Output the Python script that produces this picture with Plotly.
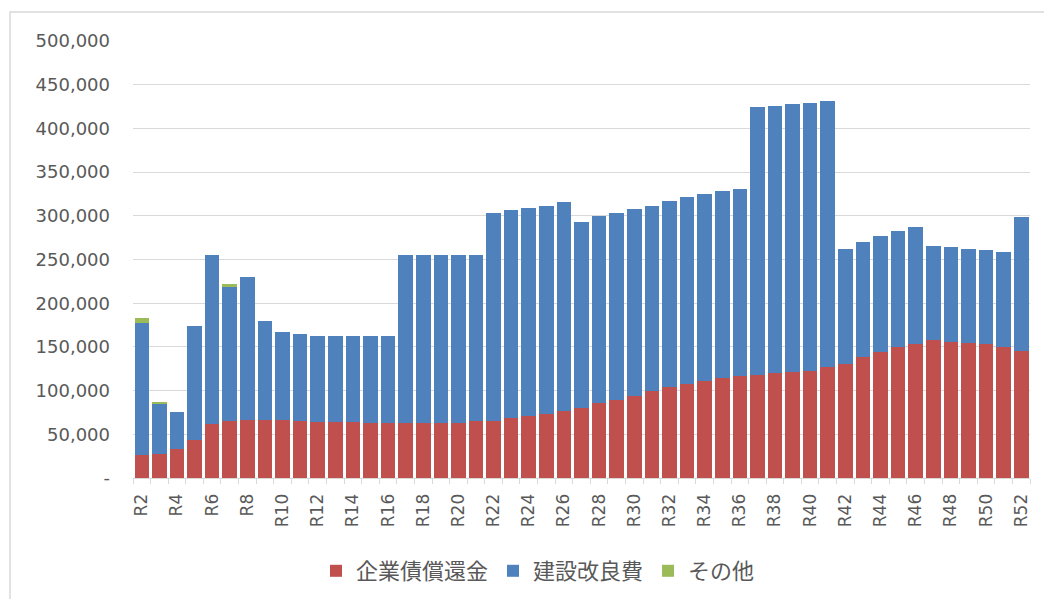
import plotly.graph_objects as go

categories = [f"R{i}" for i in range(2, 53)]
tick_labels = [c if int(c[1:]) % 2 == 0 else "" for c in categories]

redeem = [26000, 28000, 33000, 43500, 62000, 65500, 66000, 66500, 66500, 65500,
          64500, 64000, 64000, 63500, 63500, 63300, 63300, 63000, 63300, 65000,
          65300, 68200, 71200, 73500, 76600, 80400, 85400, 89200, 93700, 99100,
          103700, 107400, 111000, 114000, 116600, 117700, 119700, 121200, 122300, 127200,
          130300, 138000, 143700, 150100, 153200, 157700, 155800, 154000, 153200, 150100,
          145500]
construction = [151500, 56600, 42800, 130200, 192900, 152500, 164100, 112900, 100000, 98700,
                97800, 98300, 98300, 98800, 98800, 192000, 192000, 192300, 192000, 190300,
                238000, 238100, 237800, 238200, 239200, 213000, 214100, 214100, 214100, 212600,
                213700, 214100, 213600, 214800, 214100, 306700, 306300, 306300, 306700, 304100,
                131800, 131700, 133200, 132200, 133700, 107800, 108200, 108500, 108200, 108200,
                153200]
other = [6000, 2600, 0, 0, 0, 3800, 0, 0, 0, 0,
         0, 0, 0, 0, 0, 0, 0, 0, 0, 0,
         0, 0, 0, 0, 0, 0, 0, 0, 0, 0,
         0, 0, 0, 0, 0, 0, 0, 0, 0, 0,
         0, 0, 0, 0, 0, 0, 0, 0, 0, 0,
         0]

y_ticks = [0, 50000, 100000, 150000, 200000, 250000, 300000, 350000, 400000, 450000, 500000]
y_ticktext = ["-"] + [f"{v:,}" for v in y_ticks[1:]]

series = [("企業債償還金", redeem, "#C0504D"),
          ("建設改良費", construction, "#4F81BD"),
          ("その他", other, "#9BBB59")]

fig = go.Figure()
for name, vals, color in series:
    fig.add_trace(go.Bar(x=categories, y=vals, name=name, marker_color=color,
                         marker_line_width=0))

FONT = "DejaVu Sans, Noto Sans CJK JP, sans-serif"
W, H = 1044, 599
L, R, T, B = 133, 14, 41, 121
pw, ph = W - L - R, H - T - B

fig.update_layout(
    width=W, height=H,
    barmode="stack", bargap=0.17,
    margin=dict(l=L, r=R, t=T, b=B, autoexpand=False),
    paper_bgcolor="white", plot_bgcolor="white",
    font=dict(family=FONT, size=17, color="#595959"),
    legend=dict(orientation="h", xref="container", yref="container",
                x=538 / W, xanchor="center", y=1 - 571 / H, yanchor="middle",
                font=dict(family="Noto Sans CJK JP, sans-serif", size=22, color="#595959"),
                traceorder="normal", itemwidth=30),
    xaxis=dict(type="category", tickmode="array", tickvals=categories, ticktext=tick_labels,
               tickangle=-90, tickson="boundaries", ticks="outside", ticklen=5,
               tickcolor="#D9D9D9", showline=True, linecolor="#D9D9D9", linewidth=1,
               showgrid=False, automargin=False, ticklabelstandoff=8,
               tickfont=dict(size=17, color="#595959")),
    yaxis=dict(range=[0, 500000], tickvals=y_ticks, ticktext=y_ticktext,
               showgrid=True, gridcolor="#D9D9D9", gridwidth=1, zeroline=False,
               automargin=False, ticks="", ticklabelstandoff=22,
               tickfont=dict(size=18, color="#595959")),
    shapes=[dict(type="rect", xref="paper", yref="paper",
                 x0=(10 - L) / pw, x1=(W + 10 - L) / pw,
                 y0=-(H + 10 - (H - B)) / ph, y1=1 + (T - 12) / ph,
                 line=dict(color="#D9D9D9", width=1.5), fillcolor="rgba(0,0,0,0)",
                 layer="below")],
)

fig.write_html("out.html")
